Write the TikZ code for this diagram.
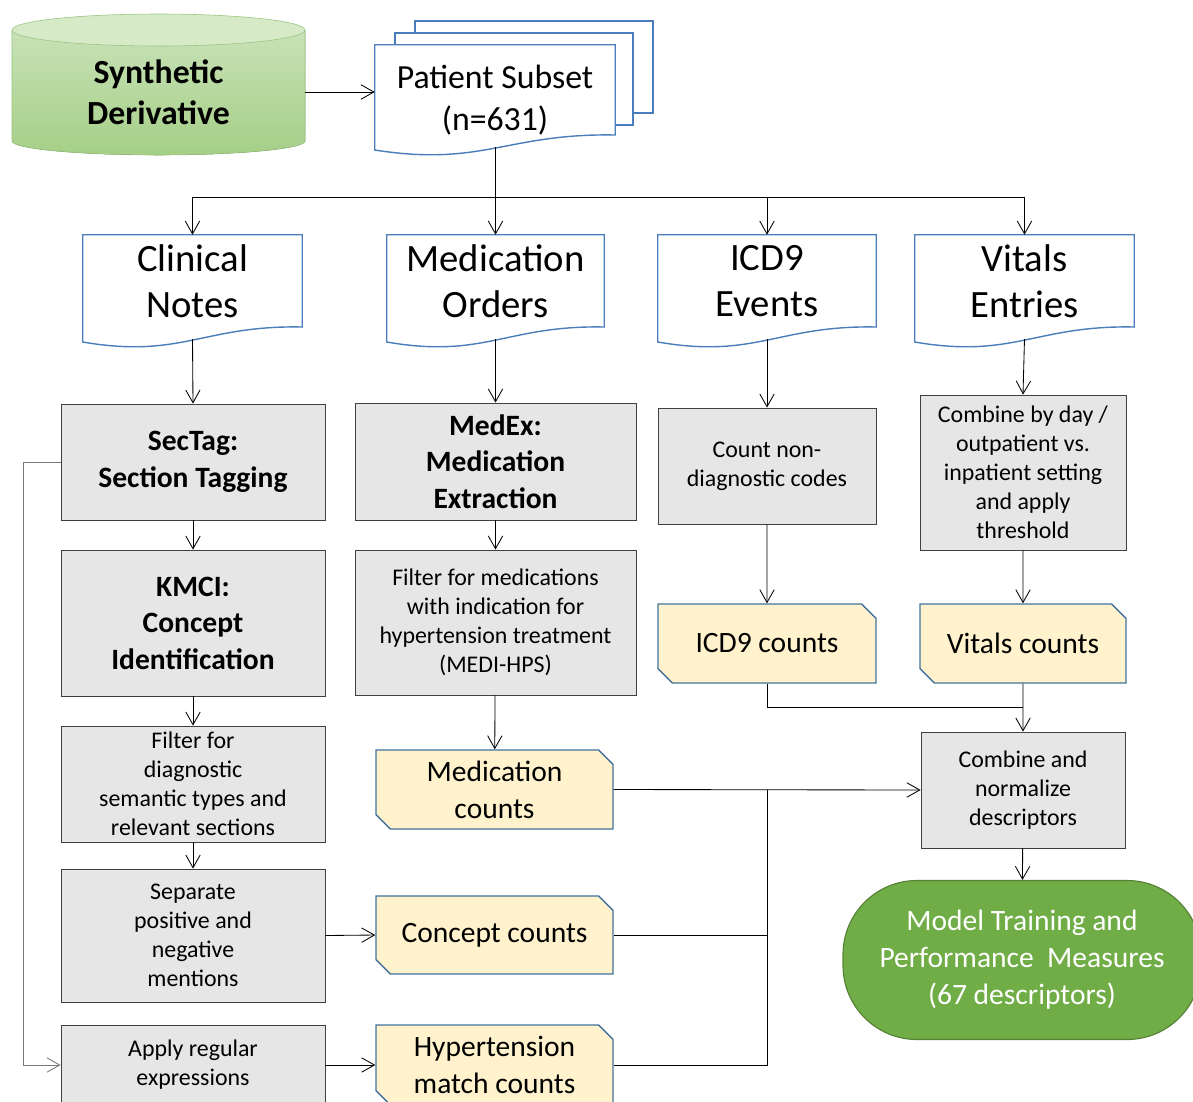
\documentclass[tikz,border=0pt]{standalone}
\usepackage{fontspec}
\setmainfont{Carlito}
\usetikzlibrary{arrows.meta,calc,shapes.misc}

\definecolor{boxgray}{RGB}{230,230,230}
\definecolor{boxline}{RGB}{64,64,64}
\definecolor{docblue}{RGB}{74,126,187}
\definecolor{cardfill}{RGB}{255,242,204}
\definecolor{cardline}{RGB}{65,113,156}
\definecolor{modelgreen}{RGB}{112,173,71}
\definecolor{modelline}{RGB}{84,130,53}
\definecolor{cyltop}{RGB}{214,234,200}
\definecolor{cylhi}{RGB}{200,226,183}
\definecolor{cyllo}{RGB}{165,207,135}
\definecolor{cylline}{RGB}{150,196,124}
\definecolor{loopgray}{RGB}{120,120,120}

\newcommand{\pxu}{0.025cm}

\pgfdeclarelayer{background}
\pgfsetlayers{background,main}

\begin{document}
\begin{tikzpicture}[x=0.025cm, y=-0.025cm,
	proc/.style={draw=boxline, fill=boxgray, line width=0.6pt, align=center, inner sep=2pt},
	procbold/.style={proc, font=\fontsize{21}{26}\selectfont\bfseries},
	procsmall/.style={proc, font=\fontsize{17}{20.6}\selectfont},
	docnode/.style={align=center, inner sep=0pt, font=\fontsize{27.5}{32.7}\selectfont},
	docline/.style={draw=docblue, fill=white, line width=1pt},
	cntcard/.style={chamfered rectangle, chamfered rectangle corners={north east,south west},
		chamfered rectangle xsep=0.18cm, chamfered rectangle ysep=0.18cm,
		draw=cardline, fill=cardfill, line width=1pt, align=center, inner sep=0pt,
		font=\fontsize{21}{26.3}\selectfont},
	conn/.style={line width=0.6pt, -{Straight Barb[length=3.2mm,width=3.6mm]}},
	link/.style={line width=0.6pt}]
	\useasboundingbox (0,0) rectangle (1193,1101);
	\clip (0,0) rectangle (1193,1101);
	\def\busy{197};

	% database
	\fill[top color=cylhi, bottom color=cyllo] (12,30) -- (12,141) arc (180:0:146.5 and 14) -- (305,30) -- cycle;
	\draw[cylline] (12,30) -- (12,141) arc (180:0:146.5 and 14) -- (305,30);
	\filldraw[fill=cyltop, draw=cylline] (158.5,30) ellipse (146.5 and 16);
	\node[font=\fontsize{24}{29.2}\selectfont\bfseries, align=center, minimum width=293*\pxu, minimum height=110*\pxu] (sd) at (158.5,92) {Synthetic\\Derivative};

	% documents (node at text centre, outline drawn below)
	\node[docnode, font=\fontsize{24}{29.9}\selectfont, minimum width=240*\pxu, minimum height=110*\pxu] (ps) at (495,100) {Patient Subset\\(n=631)};
	\node[docnode, minimum width=219*\pxu, minimum height=92*\pxu] (clin) at (192.5,281) {Clinical\\Notes};
	\node[docnode, minimum width=217*\pxu, minimum height=92*\pxu] (medo) at (495.5,281) {Medication\\Orders};
	\node[docnode, minimum width=218*\pxu, minimum height=92*\pxu] (icd) at (767,281) {ICD9\\Events};
	\node[docnode, minimum width=219*\pxu, minimum height=92*\pxu] (vit) at (1024.5,281) {Vitals\\Entries};

	% processing steps
	\node[procbold, minimum width=264*\pxu, minimum height=116*\pxu] (sectag) at (193,462) {SecTag:\\Section Tagging};
	\node[procbold, minimum width=264*\pxu, minimum height=146*\pxu] (kmci) at (193,623) {KMCI:\\Concept\\Identification};
	\node[procsmall, minimum width=264*\pxu, minimum height=116*\pxu] (filt) at (193,784) {Filter for\\diagnostic\\semantic types and\\relevant sections};
	\node[procsmall, minimum width=264*\pxu, minimum height=133*\pxu] (sep) at (193,935.5) {Separate\\positive and\\negative\\mentions};
	\node[procsmall, minimum width=264*\pxu, minimum height=80*\pxu] (regex) at (193,1065) {Apply regular\\expressions};
	\node[procbold, minimum width=281*\pxu, minimum height=117*\pxu] (medex) at (495.5,461.5) {MedEx:\\Medication\\Extraction};
	\node[procsmall, minimum width=281*\pxu, minimum height=145*\pxu] (medf) at (495.5,622.5) {Filter for medications\\with indication for\\hypertension treatment\\(MEDI-HPS)};
	\node[procsmall, minimum width=218*\pxu, minimum height=116*\pxu] (cnt) at (767,466) {Count non-\\diagnostic codes};
	\node[procsmall, minimum width=206*\pxu, minimum height=155*\pxu] (comb) at (1023,472.5) {Combine by day /\\outpatient vs.\\inpatient setting\\and apply\\threshold};
	\node[procsmall, minimum width=204*\pxu, minimum height=116*\pxu] (norm) at (1023,790) {Combine and\\normalize\\descriptors};

	% counts
	\node[cntcard, minimum width=218*\pxu, minimum height=79*\pxu] (icdc) at (767,643.5) {ICD9 counts};
	\node[cntcard, minimum width=206*\pxu, minimum height=79*\pxu] (vitc) at (1023,643.5) {Vitals counts};
	\node[cntcard, minimum width=237*\pxu, minimum height=79*\pxu] (medc) at (494.5,789.5) {Medication\\counts};
	\node[cntcard, minimum width=237*\pxu, minimum height=78*\pxu] (conc) at (494.5,935) {Concept counts};
	\node[cntcard, minimum width=237*\pxu, minimum height=80*\pxu] (hypc) at (494.5,1065) {Hypertension\\match counts};

	\node[draw=modelline, fill=modelgreen, text=white, line width=0.8pt, rounded corners=74*\pxu, align=center,
		font=\fontsize{21}{26.3}\selectfont, minimum width=358*\pxu, minimum height=159*\pxu] (model) at (1022,960)
		{Model Training and\\Performance\ \ Measures\\(67 descriptors)};

	\begin{pgfonlayer}{background}
		\draw[docline] (415,21) rectangle (653,113);
		\draw[docline] (395,33) rectangle (633,125);
		\foreach \n/\dn in {ps/35,clin/46,medo/46,icd/46,vit/46}{
			\draw[docline] (\n.north west) -- (\n.north east) -- ([yshift=-\dn*\pxu]\n.east)
				.. controls ([yshift=-(\dn-2)*\pxu]$(\n.west)!0.55!(\n.east)$)
				and ([yshift=-(\dn+32)*\pxu]$(\n.west)!0.45!(\n.east)$) .. ([yshift=-(\dn+15)*\pxu]\n.west) -- cycle;
			\coordinate (\n-w) at ([yshift=-(\dn+12)*\pxu]\n.center);
		}
	\end{pgfonlayer}

	% connectors
	\draw[conn] (sd.east) -- (sd.east -| ps.west);
	\coordinate (bus) at (495,\busy);
	\draw[link] (ps-w) -- (bus);
	\draw[link] (clin.north |- bus) -- (vit.north |- bus);
	\foreach \n in {clin,medo,icd,vit}
		\draw[conn] (\n.north |- bus) -- (\n.north);
	\draw[conn] (clin-w) -- (sectag.north);
	\draw[conn] (medo-w) -- (medex.north);
	\draw[conn] (icd-w) -- (cnt.north);
	\draw[conn] (vit-w) -- (comb.north);
	\draw[conn] (sectag) -- (kmci);
	\draw[conn] (kmci) -- (filt);
	\draw[conn] (filt) -- (sep);
	\draw[conn, draw=loopgray] (sectag.west) -- ++(-37,0) |- (regex.west);
	\draw[conn] (sep.east) -- (conc.west);
	\draw[conn] (regex.east) -- (hypc.west);
	\draw[conn] (medex) -- (medf);
	\draw[conn] (medf) -- (medc);
	\draw[conn] (cnt) -- (icdc);
	\draw[conn] (comb) -- (vitc);
	\draw[conn] (vitc) -- (norm);
	\coordinate (jn) at ($(vitc.south)!0.5!(norm.north)$);
	\draw[link] (icdc.south) |- (jn);
	\draw[conn] (medc.east) -- (norm.west);
	\draw[link] (conc.east) -| (icdc.south |- norm.west);
	\draw[link] (hypc.east) -| (icdc.south |- norm.west);
	\draw[conn] (norm) -- (model);
\end{tikzpicture}
\end{document}
